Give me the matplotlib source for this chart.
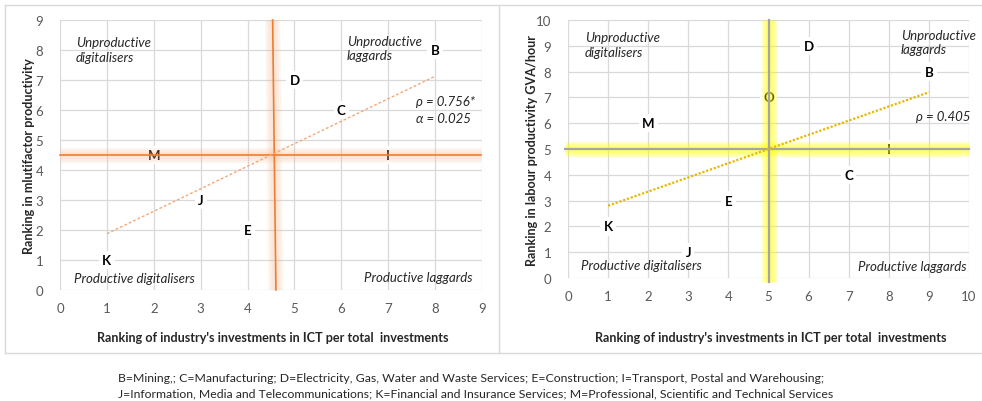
import matplotlib
matplotlib.use("Agg")
import matplotlib.pyplot as plt
import numpy as np

plt.rcParams["font.family"] = ["Lato", "DejaVu Sans"]

# Left panel: ICT investment rank vs multifactor productivity rank
mfp_labels = ["B", "D", "C", "M", "I", "J", "E", "K"]
mfp_ict = [8, 5, 6, 2, 7, 3, 4, 1]
mfp_rank = [8, 7, 6, 4.5, 4.5, 3, 2, 1]
mfp_cross = (4.57, 4.5)

# Right panel: ICT investment rank vs labour productivity rank
lp_labels = ["D", "B", "O", "M", "I", "C", "E", "K", "J"]
lp_ict = [6, 9, 5, 2, 8, 7, 4, 1, 3]
lp_rank = [9, 8, 7, 6, 5, 4, 3, 2, 1]
lp_cross = (5, 5)

caption = (
    "B=Mining,; C=Manufacturing; D=Electricity, Gas, Water and Waste Services; "
    "E=Construction; I=Transport, Postal and Warehousing;\n"
    "J=Information, Media and Telecommunications; K=Financial and Insurance "
    "Services; M=Professional, Scientific and Technical Services"
)

W, H = 982, 402
fig = plt.figure(figsize=(W / 100, H / 100), dpi=100)

GRID = "#d9d9d9"
TICK = "#595959"


def px_axes(x0, y0, x1, y1):
    return fig.add_axes([x0 / W, 1 - y1 / H, (x1 - x0) / W, (y1 - y0) / H])


def style_axes(ax, xmax, ymax):
    ax.set_xlim(0, xmax)
    ax.set_ylim(0, ymax)
    ax.set_xticks(range(0, xmax + 1))
    ax.set_yticks(range(0, ymax + 1))
    ax.grid(True, color=GRID, linewidth=0.9, zorder=0)
    ax.set_axisbelow(True)
    for s in ax.spines.values():
        s.set_visible(False)
    ax.tick_params(length=0, labelsize=9.5, labelcolor=TICK, pad=9)
    ax.tick_params(axis="y", pad=12)


def glow_line(ax, xs, ys, core, glow, core_lw, glow_alpha):
    for lw in [11, 8, 5]:
        ax.plot(xs, ys, color=glow, lw=lw, alpha=glow_alpha,
                solid_capstyle="butt", zorder=4, clip_on=False)
    ax.plot(xs, ys, color=core, lw=core_lw, zorder=5, clip_on=False)


def point_labels(ax, labels, xs, ys):
    for lab, x, y in zip(labels, xs, ys):
        ax.text(x, y, lab, ha="center", va="center", fontsize=9.5,
                fontweight="bold", color="black", zorder=3,
                bbox=dict(boxstyle="square,pad=0.25", fc="white", ec="none"))


def trend(ax, xs, ys, color, ls, lw):
    k, b = np.polyfit(xs, ys, 1)
    x = np.array([min(xs), max(xs)])
    ax.plot(x, k * x + b, color=color, lw=lw, ls=ls, zorder=6)


quad_kw = dict(fontsize=9.5, style="italic", color="#262626", zorder=7)

# ---- left panel
ax1 = px_axes(60, 21, 482, 291)
style_axes(ax1, 9, 9)
trend(ax1, mfp_ict, mfp_rank, "#f4a878", (0, (2, 1.5)), 1.0)
point_labels(ax1, mfp_labels, mfp_ict, mfp_rank)
glow_line(ax1, [mfp_cross[0] - 0.035, mfp_cross[0] + 0.035], [9, 0],
          "#ed7d31", "#f6b88e", 1.2, 0.13)
glow_line(ax1, [0, 8.97], [mfp_cross[1], mfp_cross[1]],
          "#ed7d31", "#f6b88e", 1.2, 0.13)
ax1.text(0.34, 8.02, "Unproductive\ndigitalisers", ha="left", va="center",
         linespacing=1.25, **quad_kw)
ax1.text(6.12, 8.07, "Unproductive\nlaggards", ha="left", va="center",
         linespacing=1.25, **quad_kw)
ax1.text(0.3, 0.4, "Productive digitalisers", ha="left", va="center", **quad_kw)
ax1.text(8.8, 0.43, "Productive laggards", ha="right", va="center", **quad_kw)
ax1.text(7.6, 6.3, "ρ = 0.756*", ha="left", va="center", **quad_kw)
ax1.text(7.6, 5.73, "α = 0.025", ha="left", va="center", **quad_kw)

# ---- right panel
ax2 = px_axes(568, 21, 969, 279)
style_axes(ax2, 10, 10)
trend(ax2, lp_ict, lp_rank, "#e6b800", (0, (1, 0.8)), 1.6)
point_labels(ax2, lp_labels, lp_ict, lp_rank)
glow_line(ax2, [lp_cross[0], lp_cross[0]], [10, -0.15],
          "#a5a5a5", "#ffff00", 1.6, 0.22)
glow_line(ax2, [-0.07, 10], [lp_cross[1], lp_cross[1]],
          "#a5a5a5", "#ffff00", 1.6, 0.22)
ax2.text(0.42, 9.05, "Unproductive\ndigitalisers", ha="left", va="center",
         linespacing=1.25, **quad_kw)
ax2.text(8.3, 9.15, "Unproductive\nlaggards", ha="left", va="center",
         linespacing=1.25, **quad_kw)
ax2.text(0.32, 0.5, "Productive digitalisers", ha="left", va="center", **quad_kw)
ax2.text(9.93, 0.47, "Productive laggards", ha="right", va="center", **quad_kw)
ax2.text(8.68, 6.28, "ρ = 0.405", ha="left", va="center", **quad_kw)

# axis titles
lab_kw = dict(fontsize=9.1, fontweight="bold", color="#262626")
xtitle = "Ranking of industry's investments in ICT per total  investments"
fig.text(273 / W, 1 - 338 / H, xtitle, ha="center", va="center", **lab_kw)
fig.text(771 / W, 1 - 338 / H, xtitle, ha="center", va="center", **lab_kw)
fig.text(29 / W, 1 - 156 / H, "Ranking in mlutifactor productivity",
         ha="center", va="center", rotation=90, **lab_kw)
fig.text(532 / W, 1 - 151 / H, "Ranking in labour productivity GVA/hour",
         ha="center", va="center", rotation=90, **lab_kw)

# panel frames
frame_kw = dict(color=GRID, lw=1.0, transform=fig.transFigure)
fig.add_artist(plt.Line2D([5 / W, 5 / W], [1 - 6 / H, 1 - 354 / H], **frame_kw))
fig.add_artist(plt.Line2D([5 / W, 1], [1 - 6 / H, 1 - 6 / H], **frame_kw))
fig.add_artist(plt.Line2D([5 / W, 1], [1 - 354 / H, 1 - 354 / H], **frame_kw))
fig.add_artist(plt.Line2D([499 / W, 499 / W], [1 - 6 / H, 1 - 354 / H], **frame_kw))

fig.text(118 / W, 1 - 386 / H, caption, ha="left", va="center", fontsize=8.8,
         color="#262626", linespacing=1.45)

fig.savefig("out.png", dpi=100)
